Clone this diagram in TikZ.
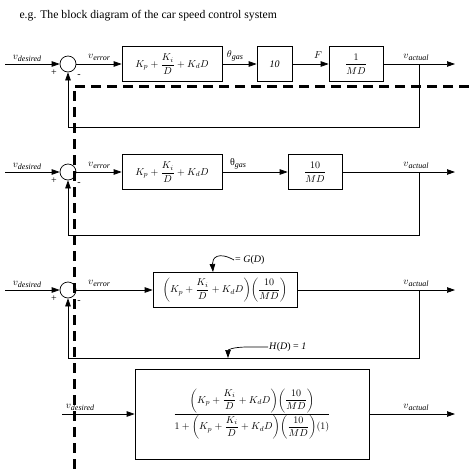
\documentclass[tikz,border=0pt]{standalone}
\usepackage{amsmath}
\usepackage{fontspec}
\setmainfont{Liberation Serif}
\usetikzlibrary{arrows.meta,calc}
\newcommand\vsub[2]{$#1$\raisebox{-2pt}{\footnotesize\itshape #2}}
\tikzset{
  every node/.append style={font=\normalsize},
  box/.style={draw, line width=0.7pt, inner sep=2pt, minimum height=35},
  sumc/.style={draw, circle, line width=0.7pt, minimum size=16, inner sep=0pt},
  arr/.style={-{Triangle[length=8pt,width=5.5pt]}, line width=0.7pt},
  wire/.style={line width=0.7pt},
  lbl/.style={inner sep=1pt, font=\normalsize},
  dashln/.style={line width=3pt, dash pattern=on 10pt off 6pt},
}

\begin{document}
\begin{tikzpicture}[x=1pt,y=-1pt]
  \useasboundingbox (0,0) rectangle (469,475);
  \node[anchor=west, font=\fontsize{11.7}{14}\selectfont] (ttl) at (16,16)
    {e.g. The block diagram of the car speed control system};

  % forward path of the three loops
  \node[box, minimum width=100] (c1) at (172,64) {$K_p+\dfrac{K_i}{D}+K_dD$};
  \node[box, minimum width=35] (g1) at (274.5,64) {\textit{10}};
  \node[box, minimum width=54] (p1) at (356,64) {$\dfrac{1}{MD}$};
  \node[lbl, anchor=south] (tg1) at (235,62) {\vsub{\theta}{gas}};
  \node[lbl, anchor=south] (ff1) at (318,60) {$F$};

  \node[box, minimum width=100] (c2) at (172,172) {$K_p+\dfrac{K_i}{D}+K_dD$};
  \node[box, minimum width=54] (g2) at (315,172) {$\dfrac{10}{MD}$};
  \node[lbl, anchor=south] (tg2) at (238,170) {θ\raisebox{-2pt}{\footnotesize\itshape gas}};

  \node[box, minimum width=144] (c3) at (225,290)
    {$\left(K_p+\dfrac{K_i}{D}+K_dD\right)\!\left(\dfrac{10}{MD}\right)$};
  \node[lbl, anchor=west] (gd) at (234,260) {= \textit{G}(\textit{D})};
  \coordinate (gt) at (213,272);
  \node[lbl, anchor=west] (hd) at (268,347) {\textit{H}(\textit{D}) = \textit{1}};
  \coordinate (ht) at (228,358);

  % common parts
  \foreach \r/\y/\fy in {1/64/127,2/172/235,3/290/358}{
    \coordinate (in\r) at (5,\y);
    \node[sumc] (s\r) at (68,\y) {};
    \coordinate (b\r) at (419,\y);
    \coordinate (o\r) at (455,\y);
    \coordinate (f\r) at (419,\fy);
    \node[lbl, anchor=south] (vd\r) at (27,\y-1) {\vsub{v}{desired}};
    \node[lbl, anchor=south] (ve\r) at (99,\y-2) {\vsub{v}{error}};
    \node[lbl, anchor=south] (va\r) at (416,\y-2) {\vsub{v}{actual}};
    \node[lbl] (pl\r) at (54,\y+9) {+};
    \node[lbl] (mi\r) at (79,\y+12) {-};
    \draw[arr] (in\r) -- (s\r);
    \draw[arr] (s\r) -- (c\r);
    \draw[arr] (b\r) -- (o\r);
    \draw[arr] (b\r) -- (f\r) -| (s\r);
  }

  \draw[arr] (c1) -- (g1);
  \draw[arr] (g1) -- (p1);
  \draw[wire] (p1) -- (b1);
  \draw[arr] (c2) -- (g2);
  \draw[wire] (g2) -- (b2);
  \draw[wire] (c3) -- (b3);
  \draw[arr] (gd.west) .. controls (218,251) and (212,258) .. (gt);
  \draw[arr] (hd.west) -- (248,347) .. controls (232,347) and (228,350) .. (ht);

  % closed loop
  \coordinate (in4) at (62,414);
  \node[box, minimum width=234, minimum height=90] (c4) at (252,414)
    {$\dfrac{\left(K_p+\dfrac{K_i}{D}+K_dD\right)\!\left(\dfrac{10}{MD}\right)}
     {1+\left(K_p+\dfrac{K_i}{D}+K_dD\right)\!\left(\dfrac{10}{MD}\right)\!(1)}$};
  \coordinate (o4) at (455,414);
  \node[lbl, anchor=south] (vd4) at (80,412) {\vsub{v}{desired}};
  \node[lbl, anchor=south] (va4) at (416,412) {\vsub{v}{actual}};
  \draw[arr] (in4) -- (c4);
  \draw[arr] (c4) -- (o4);

  \coordinate (dr) at (469,86);
  \coordinate (dc) at (74,86);
  \coordinate (db) at (74,475);
  \draw[dashln] (dr) -- (dc) -- (db);
\end{tikzpicture}
\end{document}
